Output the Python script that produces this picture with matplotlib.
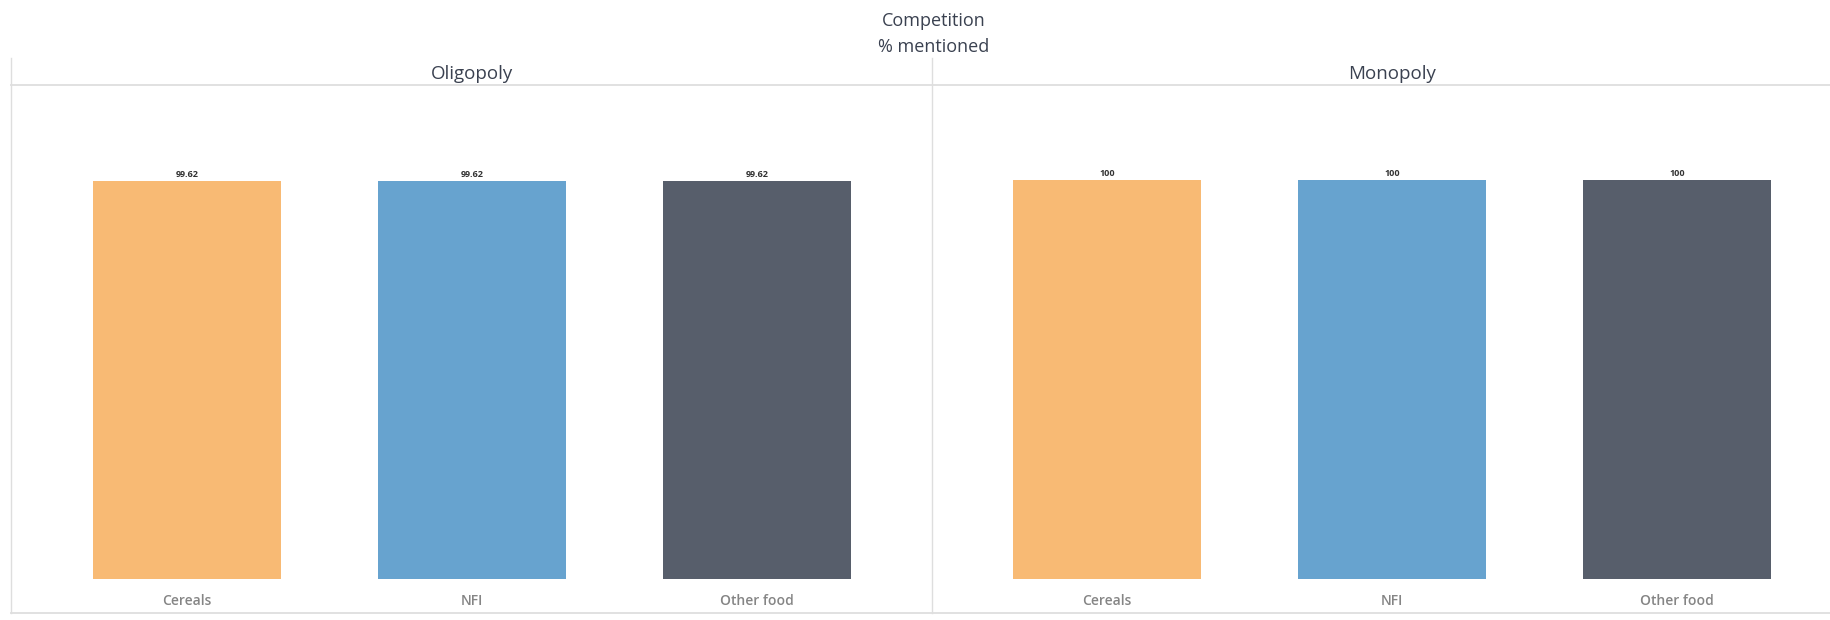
import matplotlib.pyplot as plt
from matplotlib.lines import Line2D

categories = ["Cereals", "NFI", "Other food"]
panels = ["Oligopoly", "Monopoly"]
values = {
    "Oligopoly": [99.62, 99.62, 99.62],
    "Monopoly": [100, 100, 100],
}
labels = {
    "Oligopoly": ["99.62", "99.62", "99.62"],
    "Monopoly": ["100", "100", "100"],
}
colors = ["#F8BA74", "#67A3CF", "#575E6B"]

W, H = 1831, 620
fig = plt.figure(figsize=(W / 100, H / 100), dpi=100)
plt.rcParams['font.family'] = ['Open Sans', 'DejaVu Sans']

fig.text(934 / W, 1 - 21 / H, "Competition", ha='center', va='center', fontsize=13, color='#3a4150')
fig.text(934 / W, 1 - 47 / H, "% mentioned", ha='center', va='center', fontsize=13, color='#3a4150')

grid_col = '#dedede'
# panel frame lines
for x in [11, 932]:
    fig.add_artist(Line2D([x / W, x / W], [1 - 58 / H, 1 - 613 / H], color=grid_col, lw=1))
fig.add_artist(Line2D([11 / W, 1], [1 - 85 / H, 1 - 85 / H], color=grid_col, lw=1.3))
fig.add_artist(Line2D([11 / W, 1], [1 - 613 / H, 1 - 613 / H], color=grid_col, lw=1.3))

lefts = [12, 932]
for left, name in zip(lefts, panels):
    ax = fig.add_axes([left / W, (H - 579) / H, 920 / W, (579 - 85) / H])
    x = range(len(categories))
    bars = ax.bar(x, values[name], width=0.663, color=colors)
    ax.bar_label(bars, labels=labels[name], padding=1.5, fontsize=6.5,
                 fontweight='bold', color='#333333')
    ax.set_xlim(-0.614, 2.614)
    ax.set_ylim(0, 123.7)
    ax.set_xticks(list(x))
    ax.set_xticklabels(categories, fontsize=10, fontweight='semibold', color='#858585')
    ax.tick_params(axis='x', length=0, pad=11)
    ax.set_yticks([])
    for s in ax.spines.values():
        s.set_visible(False)
    ax.patch.set_alpha(0)
    ax.text(0.5, 1 + 11 / 494, name, transform=ax.transAxes, ha='center', va='center',
            fontsize=13.5, color='#3a4150')

fig.savefig("out.png", dpi=100)
